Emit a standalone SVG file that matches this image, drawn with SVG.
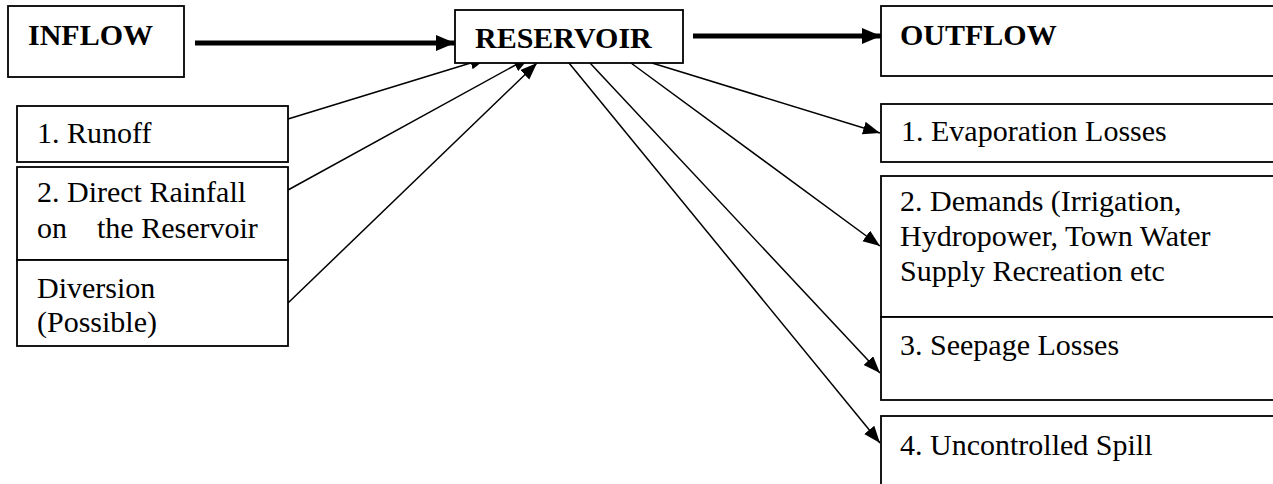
<svg xmlns="http://www.w3.org/2000/svg" width="1273" height="484" viewBox="0 0 1273 484">
  <style>
    .box { fill: #fff; stroke: #000; stroke-width: 1.8; }
    .t { font-family: "Liberation Serif", "Times New Roman", serif; font-size: 30px; fill: #000; }
    .b { font-weight: bold; }
    .thin { stroke: #000; stroke-width: 1.5; fill: none; marker-end: url(#ah); }
    .thick { stroke: #000; stroke-width: 5; fill: none; marker-end: url(#ahb); }
  </style>
  <defs>
    <marker id="ah" markerUnits="userSpaceOnUse" markerWidth="18" markerHeight="14" refX="17" refY="6.5" orient="auto">
      <path d="M0,0 L17,6.5 L0,13 z" fill="#000"/>
    </marker>
    <marker id="ahb" markerUnits="userSpaceOnUse" markerWidth="20" markerHeight="18" refX="19" refY="8" orient="auto">
      <path d="M0,0 L19,8 L0,16 z" fill="#000"/>
    </marker>
  </defs>
  <rect width="1273" height="484" fill="#fff"/>

  <g id="connectors">
    <line class="thick" x1="195" y1="43" x2="455" y2="43"/>
    <line class="thick" x1="693" y1="36" x2="881" y2="36"/>
    <line class="thin" x1="288" y1="119" x2="487" y2="58"/>
    <line class="thin" x1="288" y1="190" x2="530" y2="57"/>
    <line class="thin" x1="288" y1="303" x2="537" y2="63"/>
    <line class="thin" x1="652" y1="63" x2="880" y2="133"/>
    <line class="thin" x1="631" y1="63" x2="880" y2="246"/>
    <line class="thin" x1="590" y1="63" x2="880" y2="373"/>
    <line class="thin" x1="569" y1="63" x2="880" y2="443"/>
  </g>

  <g id="inflow">
    <rect class="box" x="8" y="6" width="176" height="71"/>
    <text class="t b" x="28" y="45">INFLOW</text>
  </g>
  <g id="reservoir">
    <rect class="box" x="455" y="10" width="228" height="53"/>
    <text class="t b" x="475" y="48">RESERVOIR</text>
  </g>
  <g id="outflow">
    <rect class="box" x="881" y="6" width="420" height="70"/>
    <text class="t b" x="900" y="45">OUTFLOW</text>
  </g>

  <g id="runoff">
    <rect class="box" x="17" y="106" width="271" height="56"/>
    <text class="t" x="37" y="143">1. Runoff</text>
  </g>
  <g id="rainfall">
    <rect class="box" x="17" y="167" width="271" height="93"/>
    <text class="t" x="37" y="202">2. Direct Rainfall</text>
    <text class="t" x="37" y="238" xml:space="preserve">on    the Reservoir</text>
  </g>
  <g id="diversion">
    <rect class="box" x="17" y="260" width="271" height="86"/>
    <text class="t" x="37" y="298">Diversion</text>
    <text class="t" x="37" y="332">(Possible)</text>
  </g>

  <g id="evaporation">
    <rect class="box" x="881" y="104" width="420" height="58"/>
    <text class="t" x="901" y="141">1. Evaporation Losses</text>
  </g>
  <g id="demands">
    <rect class="box" x="881" y="176" width="420" height="141"/>
    <text class="t" x="900" y="211">2. Demands (Irrigation,</text>
    <text class="t" x="900" y="246">Hydropower, Town Water</text>
    <text class="t" x="900" y="281">Supply Recreation etc</text>
  </g>
  <g id="seepage">
    <rect class="box" x="881" y="317" width="420" height="83"/>
    <text class="t" x="900" y="355">3. Seepage Losses</text>
  </g>
  <g id="spill">
    <rect class="box" x="881" y="416" width="420" height="100"/>
    <text class="t" x="900" y="455">4. Uncontrolled Spill</text>
  </g>
</svg>
